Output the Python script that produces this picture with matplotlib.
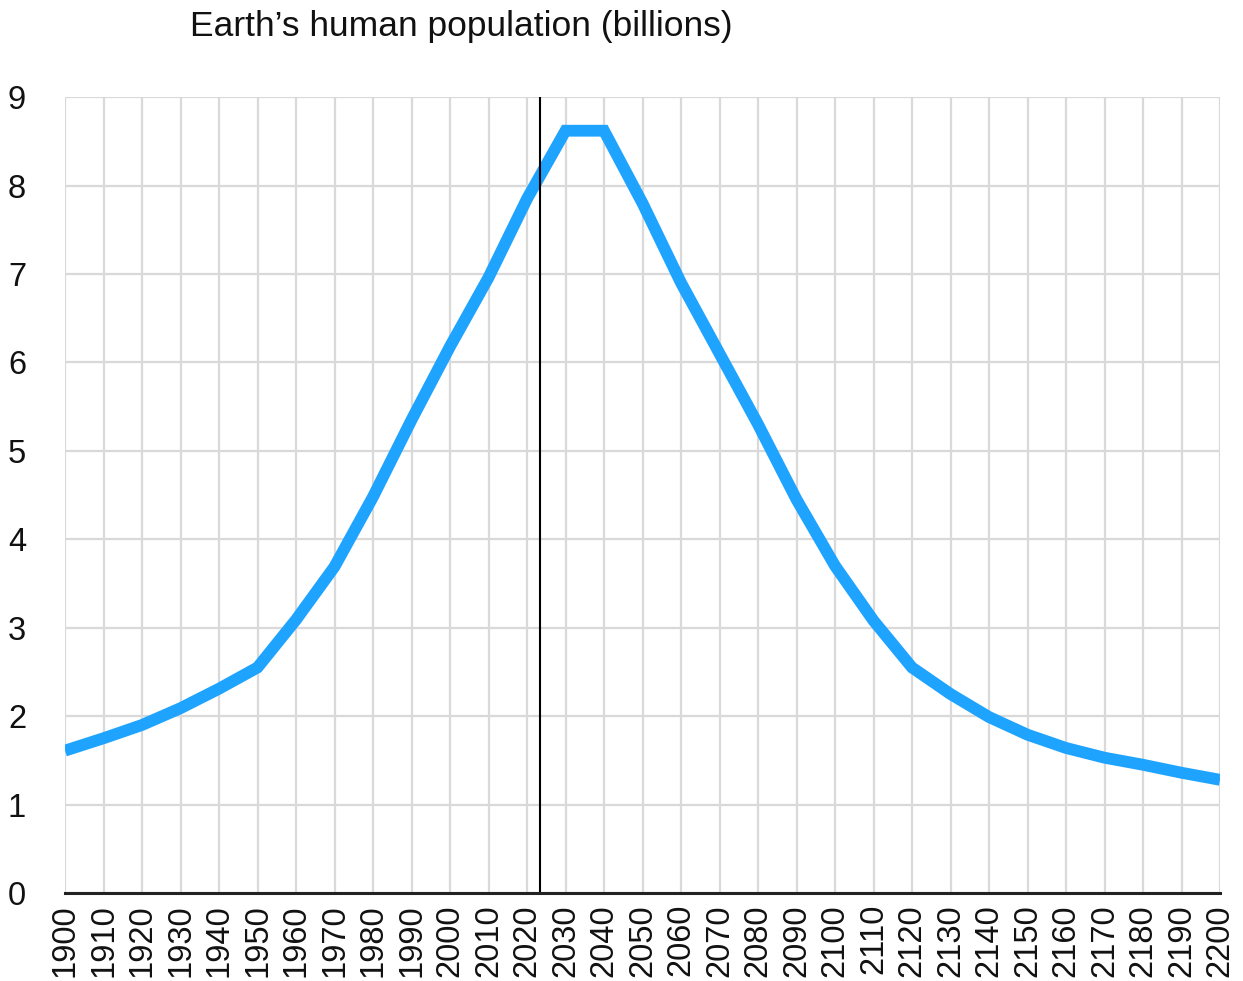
import matplotlib
matplotlib.use("Agg")
import matplotlib.pyplot as plt

plt.rcParams['font.family'] = ['Liberation Sans', 'DejaVu Sans']

# population, billions, one value per decade
years = list(range(1900, 2201, 10))
population = [1.61, 1.75, 1.90, 2.09, 2.31, 2.55, 3.09, 3.69, 4.48, 5.35,
              6.18, 6.96, 7.85, 8.62, 8.62, 7.80, 6.90, 6.10, 5.30, 4.45,
              3.70, 3.08, 2.55, 2.25, 1.99, 1.79, 1.64, 1.53, 1.45, 1.36,
              1.28]
now_year = 2023.5
title = "Earth\u2019s human population (billions)"

fig = plt.figure(figsize=(12.43, 9.81), dpi=100)
ax = fig.add_axes([0.0523, 0.0897, 0.9292, 0.8113])

ax.plot(years, population, color='#1ea3ff', lw=8.5, solid_joinstyle='miter',
        solid_capstyle='butt', zorder=3)
ax.axvline(now_year, color='black', lw=1.5, zorder=4)

ax.set_xlim(1900, 2200)
ax.set_ylim(0, 9)
ax.set_xticks(years)
ax.set_xticklabels([str(y) for y in years], rotation=90)
ax.set_yticks(range(0, 10))
ax.grid(True, color='#d9d9d9', lw=1.6)
ax.set_axisbelow(True)

for s in ['top', 'right', 'left']:
    ax.spines[s].set_visible(False)
ax.spines['bottom'].set_linewidth(2.2)
ax.spines['bottom'].set_color('#222222')
ax.spines['bottom'].set_zorder(5)

ax.tick_params(axis='both', length=0, labelsize=23.5, colors='#111111')
ax.tick_params(axis='y', pad=28)
ax.tick_params(axis='x', pad=8)

fig.text(0.371, 0.973, title, ha='center', va='center', fontsize=25.5, color='#111111')

fig.savefig("out.png", dpi=100)
